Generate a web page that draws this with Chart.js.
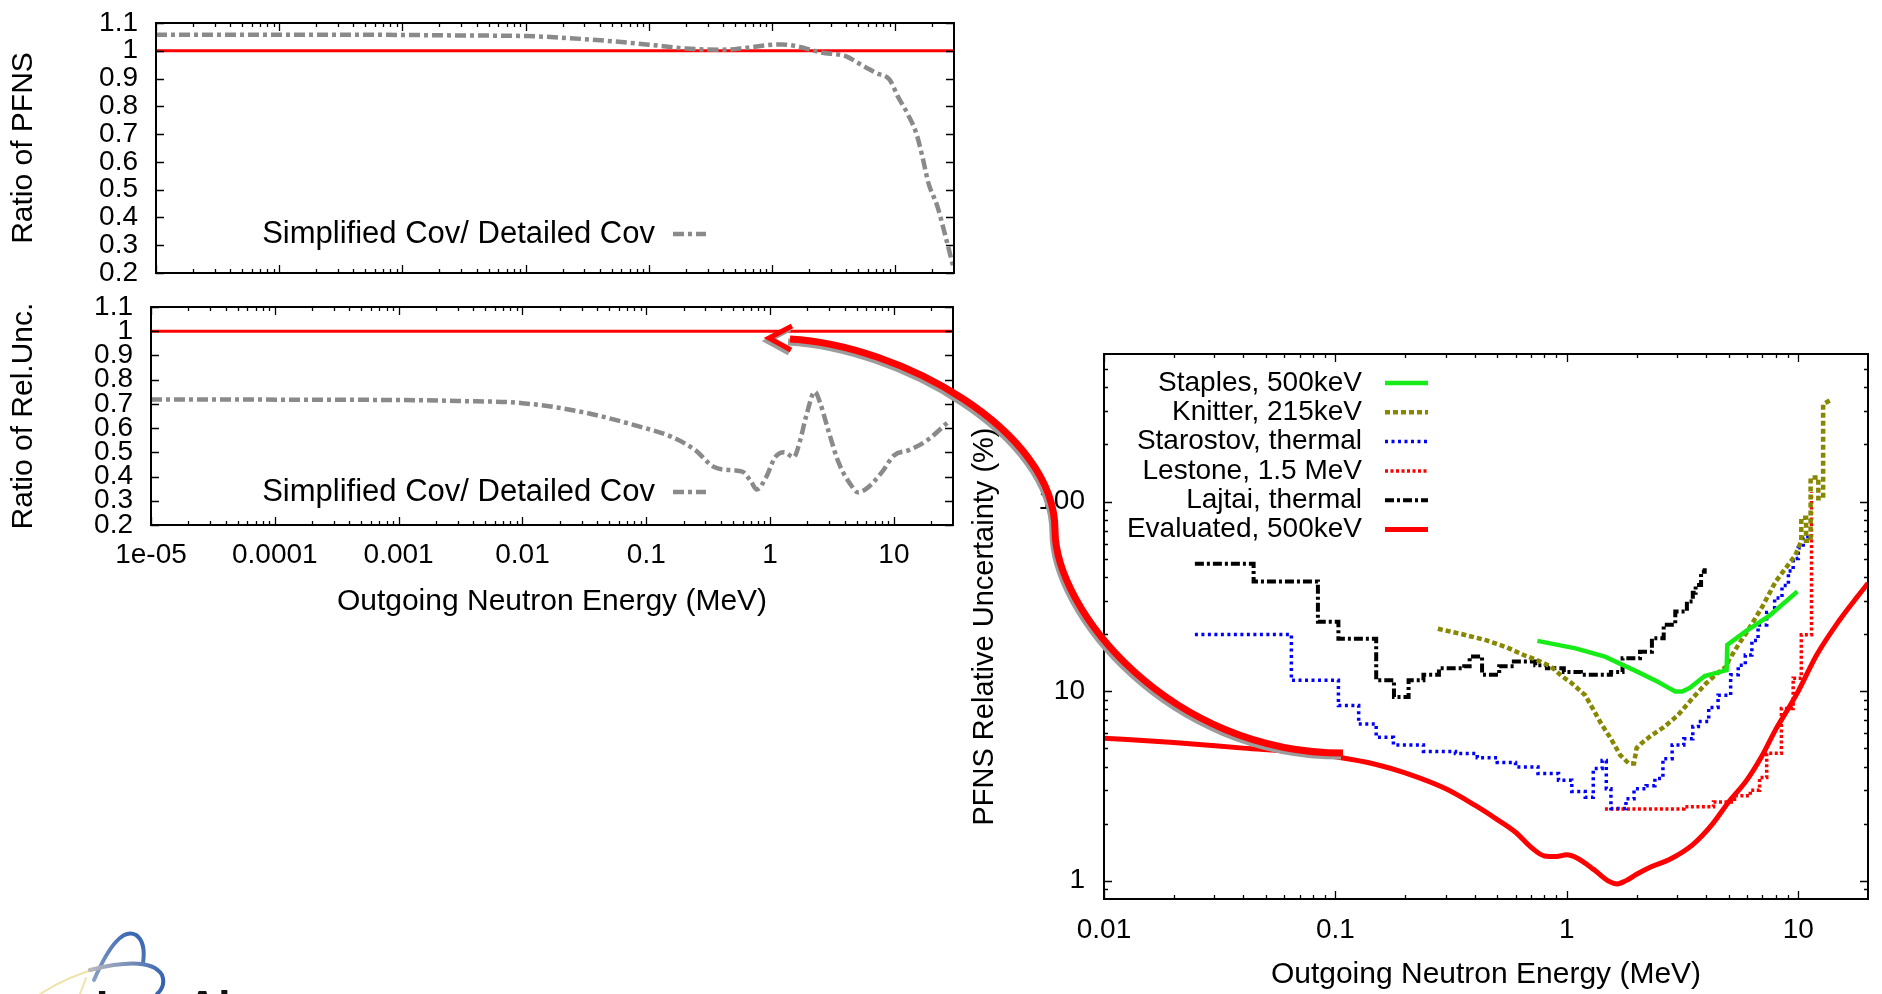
<!DOCTYPE html>
<html>

<head>
    <meta charset="utf-8">
    <style>
        body { margin: 0; background: #fff; overflow: hidden; }
        canvas { position: absolute; }
        #chartPfns { left: 0; top: 0; }
        #chartUnc { left: 0; top: 280px; }
        #chartRel { left: 960px; top: 300px; }
        #overlay { left: 0; top: 0; pointer-events: none; }
    </style>
</head>

<body>
    <canvas id="chartPfns" width="960" height="290"></canvas>
    <canvas id="chartUnc" width="960" height="345"></canvas>
    <canvas id="chartRel" width="922" height="694"></canvas>
    <canvas id="overlay" width="1882" height="994"></canvas>

    <script src="https://cdn.jsdelivr.net/npm/chart.js"></script>
    <script>
        // ---- data ----
        // ratio of PFNS, simplified / detailed covariance
        const pfnsE = [1e-5, 1e-4, 1e-3, 0.003, 0.01, 0.03, 0.1, 0.2, 0.4, 0.6, 0.9, 1.2, 1.6, 2.5, 4, 5, 7, 9, 10.5, 12.5, 14.8, 16.6, 18.6, 22, 26, 29.5];
        const pfnsRatio = [1.058, 1.058, 1.057, 1.055, 1.053, 1.042, 1.022, 1.008, 1.004, 1.01, 1.02, 1.023, 1.016, 0.994, 0.98, 0.956, 0.92, 0.896, 0.836, 0.776, 0.704, 0.62, 0.524, 0.44, 0.32, 0.225];

        // ratio of relative uncertainties
        const uncE = [1e-5, 1e-3, 0.003, 0.01, 0.03, 0.09, 0.16, 0.25, 0.35, 0.5, 0.6, 0.7, 0.78, 0.92, 1.1, 1.3, 1.55, 1.75, 1.95, 2.3, 2.55, 3.0, 3.6, 4.6, 5.1, 6.0, 8.0, 10, 13.2, 18.6, 27.5];
        const uncRatio = [0.718, 0.716, 0.712, 0.703, 0.667, 0.605, 0.564, 0.508, 0.44, 0.426, 0.42, 0.38, 0.347, 0.393, 0.48, 0.5, 0.48, 0.55, 0.647, 0.75, 0.70, 0.578, 0.454, 0.358, 0.335, 0.35, 0.418, 0.487, 0.509, 0.55, 0.626];

        const unityE = [1e-5, 30];
        const unity = [1, 1];

        // PFNS relative uncertainty (%)
        const staplesE = [0.746, 1.09, 1.46, 1.95, 2.47, 2.75, 2.94, 3.15, 3.4, 3.94, 4.9, 4.93, 5.9, 7.5, 9.9];
        const staplesU = [18.4, 16.8, 15.2, 12.9, 11.2, 10.4, 9.95, 9.95, 10.4, 12.0, 12.9, 17.5, 20.6, 25, 33.5];

        const knitterE = [0.277, 0.35, 0.45, 0.55, 0.65, 0.75, 0.85, 0.95, 1.05, 1.2, 1.3, 1.4, 1.55, 1.7, 1.85, 1.95, 2.0, 2.1, 2.3, 2.6, 3.0, 3.5, 4.0, 4.5, 4.9, 5.0, 5.5, 6.0, 7.0, 8.0, 9.0, 9.7, 10.3, 10.3, 10.8, 10.8, 11.3, 11.3, 12.2, 12.2, 12.8, 12.8, 13.7];
        const knitterU = [21.3, 20, 18.5, 17, 15.5, 14.5, 13.5, 12, 11, 9.5, 8, 6.8, 5.6, 4.6, 4.15, 4.15, 5.0, 5.3, 5.8, 6.4, 7.4, 9.2, 11, 12.5, 13.5, 14.5, 17.5, 20.5, 28, 38, 46, 52, 62, 82, 82, 62, 62, 134, 134, 104, 104, 326, 342];

        const starostovE = [0.0247, 0.0645, 0.103, 0.126, 0.15, 0.178, 0.24, 0.33, 0.41, 0.5, 0.6, 0.75, 0.92, 1.05, 1.2, 1.3, 1.42, 1.48, 1.55, 1.8, 1.95, 2.2, 2.4, 2.6, 2.85, 3.2, 3.5, 3.7, 4.1, 4.5, 5.1, 5.5, 5.9, 6.3, 6.7, 7.3, 7.9, 8.5, 9.06, 9.5, 10, 10.5, 11.0];
        const starostovU = [19.9, 11.4, 8.4, 6.7, 5.7, 5.2, 4.8, 4.68, 4.45, 4.2, 3.98, 3.67, 3.38, 2.95, 2.75, 3.9, 4.3, 3.05, 2.4, 2.7, 3.05, 3.17, 3.46, 4.4, 5.2, 5.6, 6.5, 6.9, 8.2, 9.5, 12.2, 13.7, 15.5, 18.5, 22.3, 26, 31, 36, 43, 50, 57, 64, 68];

        const lestoneE = [1.46, 3.2, 4.3, 5.3, 6.2, 6.8, 7.3, 8.45, 9.5, 10.3, 11.4];
        const lestoneU = [2.39, 2.45, 2.6, 2.8, 3.0, 3.5, 4.7, 8.1, 11.7, 19.8, 112];

        const lajtaiE = [0.0247, 0.0443, 0.084, 0.103, 0.15, 0.179, 0.207, 0.24, 0.28, 0.36, 0.38, 0.43, 0.51, 0.59, 0.73, 0.82, 0.97, 1.15, 1.55, 1.74, 2.07, 2.33, 2.62, 2.94, 3.3, 3.5, 3.6, 3.8, 3.94];
        const lajtaiU = [47, 37.8, 23.2, 18.9, 11.4, 9.3, 11.4, 12.2, 13.2, 13.5, 15.2, 12.2, 13.5, 14.3, 13.7, 13.2, 12.6, 12.2, 12.6, 14.9, 16.1, 19, 22.4, 26.3, 29.7, 33, 36.3, 42.6, 44.4];

        const evalE = [0.01, 0.02, 0.04, 0.07, 0.1, 0.15, 0.2, 0.3, 0.4, 0.5, 0.6, 0.7, 0.8, 0.9, 1.0, 1.1, 1.3, 1.5, 1.65, 1.8, 2.0, 2.3, 2.8, 3.5, 4.2, 5, 6, 7, 8, 9, 10, 12, 15, 18, 20];
        const evalU = [5.64, 5.35, 5.0, 4.75, 4.5, 4.1, 3.7, 3.05, 2.5, 2.1, 1.8, 1.5, 1.35, 1.34, 1.37, 1.32, 1.15, 1.0, 0.96, 1.0, 1.08, 1.18, 1.3, 1.55, 1.95, 2.6, 3.4, 4.6, 6.3, 8.0, 10.0, 15.5, 23.5, 31.5, 37];

        // ---- ticks ----
        const xTicksLeft = [1e-5, 1e-4, 1e-3, 0.01, 0.1, 1, 10];
        const xLabelsLeft = ['1e-05', '0.0001', '0.001', '0.01', '0.1', '1', '10'];
        const yTicksRatio = [0.2, 0.3, 0.4, 0.5, 0.6, 0.7, 0.8, 0.9, 1.0, 1.1];
        const yLabelsRatio = ['0.2', '0.3', '0.4', '0.5', '0.6', '0.7', '0.8', '0.9', '1', '1.1'];
        const xTicksRight = [0.01, 0.1, 1, 10];
        const xLabelsRight = ['0.01', '0.1', '1', '10'];
        const yTicksRight = [1, 10, 100];
        const yLabelsRight = ['1', '10', '100'];

        const FONT = '"Liberation Sans", Arial, Helvetica, sans-serif';
        const tickFont = { family: FONT, size: 28 };
        const titleFont = { family: FONT, size: 30, lineHeight: 1 };

        const pts = (xs, ys) => xs.map((x, i) => ({ x: x, y: ys[i] }));

        // gnuplot-like frame: border plus inward ticks on all four sides
        function logMinor(scale) {
            const out = [];
            const lo = Math.floor(Math.log10(scale.min));
            const hi = Math.ceil(Math.log10(scale.max));
            for (let e = lo; e < hi; e++) {
                for (let k = 2; k <= 9; k++) {
                    const v = k * Math.pow(10, e);
                    if (v > scale.min && v < scale.max) out.push(v);
                }
            }
            return out;
        }

        const gnuFrame = {
            id: 'gnuFrame',
            afterDatasetsDraw(chart) {
                const { ctx, chartArea: a, scales } = chart;
                const major = 8, minor = 4;
                ctx.save();
                ctx.strokeStyle = '#000';
                ctx.lineWidth = 1.3;
                ctx.beginPath();
                ['x', 'y'].forEach(id => {
                    const s = scales[id];
                    const marks = s.ticks.map(t => [t.value, major]);
                    if (s.type === 'logarithmic') logMinor(s).forEach(v => marks.push([v, minor]));
                    marks.forEach(([v, len]) => {
                        const p = Math.round(s.getPixelForValue(v)) + 0.5;
                        if (id === 'x') {
                            ctx.moveTo(p, a.bottom); ctx.lineTo(p, a.bottom - len);
                            ctx.moveTo(p, a.top); ctx.lineTo(p, a.top + len);
                        } else {
                            ctx.moveTo(a.left, p); ctx.lineTo(a.left + len, p);
                            ctx.moveTo(a.right, p); ctx.lineTo(a.right - len, p);
                        }
                    });
                });
                ctx.stroke();
                ctx.lineWidth = 2;
                ctx.strokeRect(a.left, a.top, a.right - a.left, a.bottom - a.top);
                ctx.restore();
            }
        };

        // key: right-aligned text with the line sample after it
        const gnuLegend = {
            id: 'gnuLegend',
            afterDraw(chart, args, o) {
                const ctx = chart.ctx;
                ctx.save();
                ctx.font = o.size + 'px ' + FONT;
                ctx.textAlign = 'right';
                ctx.textBaseline = 'middle';
                let row = 0;
                chart.data.datasets.forEach(ds => {
                    if (!ds.label) return;
                    const y = o.top + row * o.step;
                    ctx.fillStyle = '#000';
                    ctx.fillText(ds.label, o.textRight, y);
                    ctx.strokeStyle = ds.borderColor;
                    ctx.lineWidth = ds.borderWidth;
                    ctx.setLineDash(ds.borderDash || []);
                    ctx.beginPath();
                    ctx.moveTo(o.x0, y);
                    ctx.lineTo(o.x1, y);
                    ctx.stroke();
                    ctx.setLineDash([]);
                    row++;
                });
                ctx.restore();
            }
        };

        function fixTicks(values) {
            return scale => { scale.ticks = values.map(v => ({ value: v })); };
        }

        // fixed axis box size, no extra room for overhanging labels
        function fixSize(prop, size) {
            return s => {
                s[prop] = size;
                s.paddingTop = s.paddingBottom = s.paddingLeft = s.paddingRight = 0;
            };
        }

        function ratioChart(canvasId, yTitle, ratioE, ratioV, cfg) {
            return new Chart(document.getElementById(canvasId), {
                type: 'line',
                data: {
                    datasets: [{
                        label: 'Simplified Cov/ Detailed Cov',
                        data: pts(ratioE, ratioV),
                        borderColor: '#8a8a8a',
                        borderWidth: 4.5,
                        borderDash: [11, 4, 4, 4],
                        cubicInterpolationMode: 'monotone',
                        pointRadius: 0
                    }, {
                        data: pts(unityE, unity),
                        borderColor: '#ff0000',
                        borderWidth: 3,
                        pointRadius: 0
                    }]
                },
                options: {
                    responsive: false,
                    animation: false,
                    events: [],
                    layout: { padding: { top: cfg.padTop, right: cfg.padRight, left: 0, bottom: 0 } },
                    plugins: {
                        legend: { display: false },
                        tooltip: { enabled: false },
                        gnuLegend: { size: 31, textRight: 655, x0: 673, x1: 706, top: cfg.legendY, step: 0 }
                    },
                    scales: {
                        x: {
                            type: 'logarithmic',
                            min: 1e-5,
                            max: 30,
                            afterBuildTicks: fixTicks(xTicksLeft),
                            afterFit: fixSize('height', cfg.xHeight),
                            grid: { display: false, drawTicks: false },
                            border: { display: false },
                            ticks: {
                                display: cfg.xLabels,
                                autoSkip: false,
                                maxRotation: 0,
                                padding: 13,
                                color: '#000',
                                font: tickFont,
                                callback: (v, i) => xLabelsLeft[i]
                            },
                            title: {
                                display: cfg.xLabels,
                                text: 'Outgoing Neutron Energy (MeV)',
                                color: '#000',
                                font: titleFont,
                                padding: { top: 0, bottom: 8 }
                            }
                        },
                        y: {
                            min: 0.2,
                            max: 1.1,
                            afterBuildTicks: fixTicks(yTicksRatio),
                            afterFit: fixSize('width', cfg.yWidth),
                            grid: { display: false, drawTicks: false },
                            border: { display: false },
                            ticks: {
                                autoSkip: false,
                                padding: 18,
                                color: '#000',
                                font: tickFont,
                                callback: (v, i) => yLabelsRatio[i]
                            },
                            title: {
                                display: true,
                                text: yTitle,
                                color: '#000',
                                font: titleFont,
                                padding: { top: 9, bottom: 0 }
                            }
                        }
                    }
                },
                plugins: [gnuFrame, gnuLegend]
            });
        }

        ratioChart('chartPfns', 'Ratio of PFNS', pfnsE, pfnsRatio,
            { padTop: 23, padRight: 6, xHeight: 17, yWidth: 156, xLabels: false, legendY: 234 });
        ratioChart('chartUnc', 'Ratio of Rel.Unc.', uncE, uncRatio,
            { padTop: 27, padRight: 7, xHeight: 100, yWidth: 151, xLabels: true, legendY: 212 });

        // PFNS relative uncertainty, all evaluations
        new Chart(document.getElementById('chartRel'), {
            type: 'line',
            data: {
                datasets: [{
                    label: 'Staples, 500keV',
                    data: pts(staplesE, staplesU),
                    borderColor: '#18ec18',
                    borderWidth: 4.5,
                    pointRadius: 0
                }, {
                    label: 'Knitter, 215keV',
                    data: pts(knitterE, knitterU),
                    borderColor: '#878700',
                    borderWidth: 4.5,
                    borderDash: [5, 3],
                    pointRadius: 0
                }, {
                    label: 'Starostov, thermal',
                    data: pts(starostovE, starostovU),
                    borderColor: '#0000ff',
                    borderWidth: 3.5,
                    borderDash: [3, 3.5],
                    stepped: true,
                    pointRadius: 0
                }, {
                    label: 'Lestone, 1.5 MeV',
                    data: pts(lestoneE, lestoneU),
                    borderColor: '#ff0000',
                    borderWidth: 3.5,
                    borderDash: [3, 2.5],
                    stepped: true,
                    pointRadius: 0
                }, {
                    label: 'Lajtai, thermal',
                    data: pts(lajtaiE, lajtaiU),
                    borderColor: '#000000',
                    borderWidth: 4,
                    borderDash: [9, 3, 3, 3],
                    stepped: true,
                    pointRadius: 0
                }, {
                    label: 'Evaluated, 500keV',
                    data: pts(evalE, evalU),
                    borderColor: '#ff0000',
                    borderWidth: 5,
                    cubicInterpolationMode: 'monotone',
                    pointRadius: 0
                }]
            },
            options: {
                responsive: false,
                animation: false,
                events: [],
                layout: { padding: { top: 54, right: 14, left: 0, bottom: 0 } },
                plugins: {
                    legend: { display: false },
                    tooltip: { enabled: false },
                    gnuLegend: { size: 28, textRight: 402, x0: 425, x1: 468, top: 83, step: 29.3 }
                },
                scales: {
                    x: {
                        type: 'logarithmic',
                        min: 0.01,
                        max: 20,
                        afterBuildTicks: fixTicks(xTicksRight),
                        afterFit: fixSize('height', 95),
                        grid: { display: false, drawTicks: false },
                        border: { display: false },
                        ticks: {
                            autoSkip: false,
                            maxRotation: 0,
                            padding: 14,
                            color: '#000',
                            font: tickFont,
                            callback: (v, i) => xLabelsRight[i]
                        },
                        title: {
                            display: true,
                            text: 'Outgoing Neutron Energy (MeV)',
                            color: '#000',
                            font: titleFont,
                            padding: { top: 0, bottom: 4 }
                        }
                    },
                    y: {
                        type: 'logarithmic',
                        min: 0.8,
                        max: 600,
                        afterBuildTicks: fixTicks(yTicksRight),
                        afterFit: fixSize('width', 144),
                        grid: { display: false, drawTicks: false },
                        border: { display: false },
                        ticks: {
                            autoSkip: false,
                            padding: 19,
                            color: '#000',
                            font: tickFont,
                            callback: (v, i) => yLabelsRight[i]
                        },
                        title: {
                            display: true,
                            text: 'PFNS Relative Uncertainty (%)',
                            color: '#000',
                            font: { family: FONT, size: 29, lineHeight: 1 },
                            padding: { top: 10, bottom: 0 }
                        }
                    }
                }
            },
            plugins: [gnuFrame, gnuLegend]
        });

        // ---- overlay: curved call-out arrow and logo ----
        const ov = document.getElementById('overlay').getContext('2d');

        const arrowHead = [[792, 326], [769, 338], [791, 350]];

        // S-shaped shaft: from the head rightwards, down, then right to its tail
        function shaft(ctx, dx, dy) {
            ctx.beginPath();
            ctx.moveTo(790 + dx, 339 + dy);
            ctx.bezierCurveTo(900 + dx, 345 + dy, 1055 + dx, 430 + dy, 1055 + dx, 530 + dy);
            ctx.bezierCurveTo(1055 + dx, 610 + dy, 1170 + dx, 753 + dy, 1343 + dx, 753 + dy);
            ctx.stroke();
        }

        function head(ctx, dx, dy) {
            ctx.beginPath();
            ctx.moveTo(arrowHead[0][0] + dx, arrowHead[0][1] + dy);
            ctx.lineTo(arrowHead[1][0] + dx, arrowHead[1][1] + dy);
            ctx.lineTo(arrowHead[2][0] + dx, arrowHead[2][1] + dy);
            ctx.stroke();
        }

        ov.lineJoin = 'miter';
        ov.lineCap = 'butt';
        ov.strokeStyle = '#9c9c9c';
        ov.lineWidth = 7;
        shaft(ov, -2, 3);
        ov.lineWidth = 5;
        head(ov, -2, 3);
        ov.strokeStyle = '#ff0000';
        ov.lineWidth = 7;
        shaft(ov, 0, 0);
        ov.lineWidth = 5;
        head(ov, 0, 0);

        // logo arcs at the lower left corner
        ov.lineCap = 'round';
        ov.strokeStyle = '#efe3a8';
        ov.lineWidth = 2;
        ov.beginPath(); ov.moveTo(40, 994); ov.quadraticCurveTo(70, 975, 100, 968); ov.stroke();
        ov.beginPath(); ov.moveTo(80, 994); ov.lineTo(86, 978); ov.stroke();
        const g1 = ov.createLinearGradient(95, 990, 145, 930);
        g1.addColorStop(0, '#8fa6c8'); g1.addColorStop(1, '#2f5fb0');
        ov.strokeStyle = g1;
        ov.lineWidth = 4;
        ov.beginPath(); ov.moveTo(94, 980); ov.quadraticCurveTo(118, 925, 136, 935); ov.quadraticCurveTo(146, 942, 143, 963); ov.stroke();
        const g2 = ov.createLinearGradient(90, 970, 165, 990);
        g2.addColorStop(0, '#b8b8c0'); g2.addColorStop(1, '#2f5fb0');
        ov.strokeStyle = g2;
        ov.beginPath(); ov.moveTo(90, 970); ov.quadraticCurveTo(150, 955, 162, 975); ov.quadraticCurveTo(166, 986, 157, 994); ov.stroke();
        ov.fillStyle = '#111';
        ov.font = 'bold 44px ' + FONT;
        ov.textBaseline = 'alphabetic';
        ov.fillText('Los Alamos', 96, 1022);
    </script>
</body>

</html>
